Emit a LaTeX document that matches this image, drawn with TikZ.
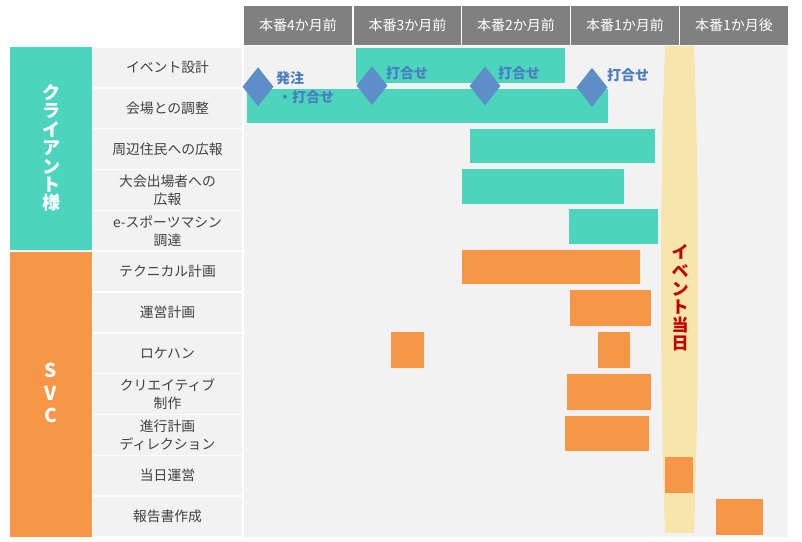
\documentclass[tikz,border=0pt]{standalone}
\usepackage{fontspec}
\setmainfont{Noto Sans CJK JP}
\usetikzlibrary{shapes.geometric}
\definecolor{tealbar}{HTML}{4CD5BC}
\definecolor{orangebar}{HTML}{F79646}
\definecolor{hdrgray}{HTML}{808080}
\definecolor{bggray}{HTML}{F2F2F2}
\definecolor{bandyellow}{HTML}{F8E5AE}
\definecolor{diablue}{HTML}{5E8EC8}
\definecolor{diatext}{HTML}{4A7EC0}
\definecolor{evred}{HTML}{C00000}
\definecolor{labelgray}{HTML}{404040}
\tikzset{
  hdrtext/.style={font=\fontsize{14}{16}\selectfont, text=white, inner sep=0},
  rowtext/.style={font=\fontsize{13.8}{18}\selectfont, text=labelgray, align=center, inner sep=0},
  cattext/.style={font=\fontsize{18}{18.4}\selectfont\bfseries, text=white, align=center, inner sep=0},
  diamark/.style={diamond, fill=diablue, minimum width=31pt, minimum height=39pt, inner sep=0, draw=none},
  diatxt/.style={font=\fontsize{14}{16}\selectfont\bfseries, text=diatext, inner sep=0, anchor=west},
}
\begin{document}
\begin{tikzpicture}[x=1pt,y=-1pt]
\useasboundingbox (0,0) rectangle (802,541);
\fill[white] (0,0) rectangle (802,541);
% body background
\fill[bggray] (244,46) rectangle (788,537);
% header
\foreach \xa/\xb/\t [count=\k] in {244/352/本番4か月前,354/461/本番3か月前,462/570/本番2か月前,571/679/本番1か月前,680/788/本番1か月後}{
  \fill[hdrgray] (\xa,6) rectangle (\xb,45);
  \node[hdrtext] (hdr\k) at ({(\xa+\xb)/2},25.5) {\t};
}
% category blocks
\fill[tealbar] (10,47) rectangle (92,249.5);
\fill[orangebar] (10,251.5) rectangle (92,537);
\node[cattext] (client) at (51,148) {ク\\ラ\\イ\\ア\\ン\\ト\\様};
\node[cattext, font=\fontsize{19}{22.5}\selectfont\bfseries] (svc) at (51,393) {S\\V\\C};
% row label cells
\foreach \i in {0,...,11}{
  \fill[bggray] (93,{47+40.83*\i+0.8}) rectangle (242,{47+40.83*(\i+1)-0.8});
}
\foreach \t [count=\k from 0] in {イベント設計,会場との調整,周辺住民への広報,{大会出場者への\\広報},{e-スポーツマシン\\調達},テクニカル計画,運営計画,ロケハン,{クリエイティブ\\制作},{進行計画\\ディレクション},当日運営,報告書作成}{
  \node[rowtext] (row\k) at (167.5,{47+40.83*(\k+0.5)}) {\t};
}
% event day band
\begin{scope}
  \clip (600,46) rectangle (760,532);
  \fill[bandyellow] (679.5,289) ellipse [x radius=18.5pt, y radius=390pt];
\end{scope}
% client bars
\fill[tealbar] (356,48.3) rectangle (565,82.7);
\fill[tealbar] (247,89) rectangle (608,122.7);
\fill[tealbar] (470,129) rectangle (655,162.7);
\fill[tealbar] (462,169) rectangle (624,203.7);
\fill[tealbar] (569,209) rectangle (658,243.7);
% SVC bars
\fill[orangebar] (462,250) rectangle (640,283.7);
\fill[orangebar] (570,290) rectangle (651,325.7);
\fill[orangebar] (391,332) rectangle (424,367.7);
\fill[orangebar] (598,332) rectangle (630,367.7);
\fill[orangebar] (567,374) rectangle (651,409.7);
\fill[orangebar] (565,416) rectangle (649,450.7);
\fill[orangebar] (665,457) rectangle (693,492.7);
\fill[orangebar] (716,499) rectangle (763,534.7);
% event day text
\node[font=\fontsize{17}{18.2}\selectfont\bfseries, text=evred, align=center, inner sep=0] (eventday) at (680,298) {イ\\ベ\\ン\\ト\\当\\日};
% milestones
\node[diamark] (m1) at (258,86.7) {};
\node[diamark] (m2) at (372,85.5) {};
\node[diamark] (m3) at (485,86) {};
\node[diamark] (m4) at (592,87.3) {};
\node[diatxt] (t1a) at (276,78) {発注};
\node[diatxt] (t1b) at (278,97) {・打合せ};
\node[diatxt] (t2) at (386,73) {打合せ};
\node[diatxt] (t3) at (498,73) {打合せ};
\node[diatxt] (t4) at (607,75) {打合せ};
\end{tikzpicture}
\end{document}
